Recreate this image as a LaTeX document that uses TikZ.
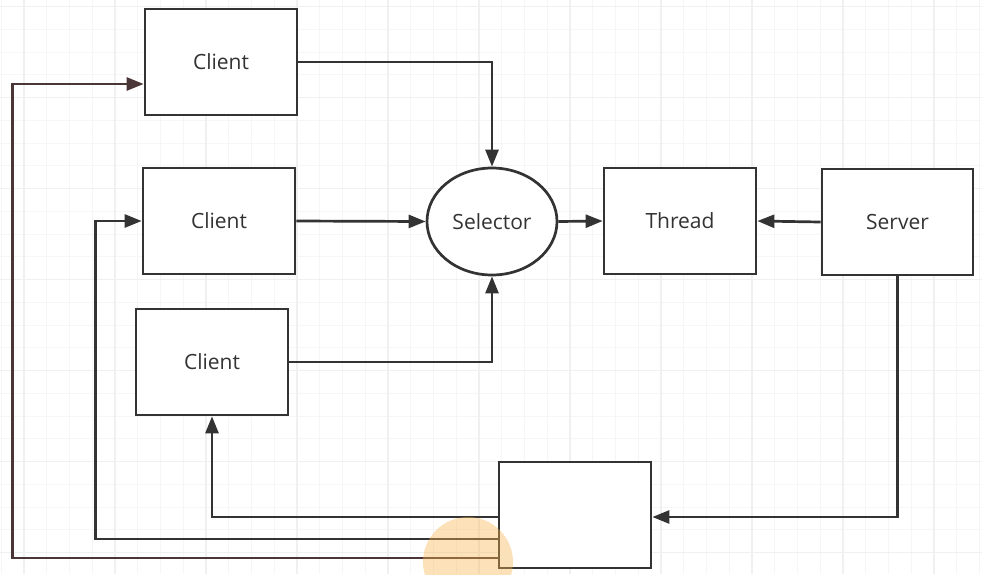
\documentclass[tikz,border=0pt]{standalone}
\usepackage{fontspec}
\setmainfont{Open Sans}
\usetikzlibrary{arrows.meta,shapes.geometric}
\definecolor{ink}{HTML}{333333}
\definecolor{wire}{HTML}{4A3636}
\definecolor{halo}{RGB}{247,181,80}
\tikzset{
  box/.style={draw=ink,line width=2.7pt,fill=white,minimum width=152pt,minimum height=106pt,inner sep=0pt,font=\fontsize{21}{24}\selectfont,text=ink},
  oval/.style={draw=ink,line width=2.7pt,fill=white,ellipse,minimum width=130pt,minimum height=107pt,inner sep=0pt,font=\fontsize{21}{24}\selectfont,text=ink},
  arr/.style={draw=ink,line width=2.7pt,-{Triangle[length=17pt,width=13pt]}},
  minorgrid/.style={draw=black!3.5,line width=1pt},
  majorgrid/.style={draw=black!6,line width=1.3pt}
}
\begin{document}
\begin{tikzpicture}[x=1pt,y=-1pt]
    \useasboundingbox (0,0) rectangle (982,574);
    %Grid
    \foreach \i in {0,...,43} {\draw[minorgrid] ({1.25+\i*22.75},0) -- ++(0,574);}
    \foreach \j in {0,...,25} {\draw[minorgrid] (0,{6.7+\j*22.75}) -- ++(982,0);}
    \foreach \i in {0,...,10} {\draw[majorgrid] ({24+\i*91},0) -- ++(0,574);}
    \foreach \j in {0,...,6} {\draw[majorgrid] (0,{6.7+\j*91}) -- ++(982,0);}
    %Nodes
    \node[box] (c1) at (221,62) {Client};
    \node[box] (c2) at (219,221) {Client};
    \node[box] (c3) at (212,362) {Client};
    \node[oval] (sel) at (492,221.5) {Selector};
    \node[box] (thr) at (680,221) {Thread};
    \node[box,minimum width=151pt] (srv) at (897.5,222) {Server};
    \node[box] (bot) at (575,515) {};
    %Into the selector
    \draw[arr] (c1.east) -| (sel.north);
    \draw[arr] (c2.east) -- (sel.west);
    \draw[arr] (c3.east) -| (sel.south);
    \draw[arr] (sel.east) -- (thr.west);
    \draw[arr] (srv.west) -- (thr.east);
    \draw[arr] (srv.south) |- ([yshift=-2pt]bot.east);
    %Back to the clients
    \draw[arr] ([yshift=-2pt]bot.west) -| (c3.south);
    \draw[arr] ([yshift=-24pt]bot.west) -- ++(-402,0) |- (c2.west);
    \draw[arr,draw=wire] ([yshift=-43pt]bot.west) -- ++(-485,0) |- ([yshift=-22pt]c1.west);
    %Pointer
    \fill[halo,opacity=.4] (468,562) circle (45pt);
\end{tikzpicture}
\end{document}
